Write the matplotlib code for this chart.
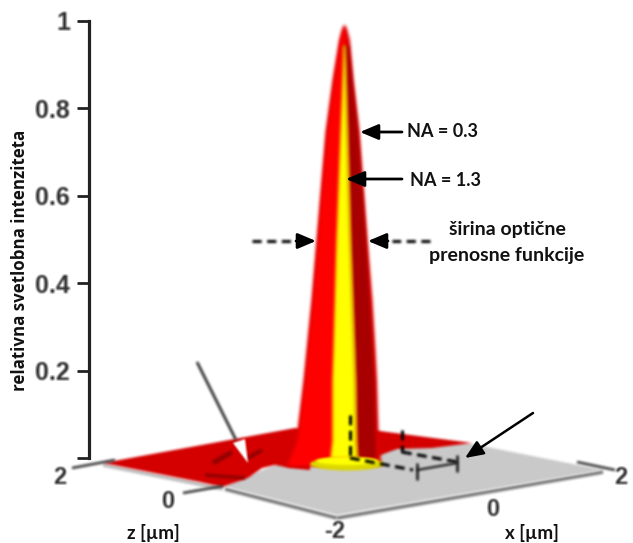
import numpy as np
import matplotlib
matplotlib.use("Agg")
import matplotlib.pyplot as plt
from matplotlib.patches import Ellipse, Polygon

# y axis
tick_vals = [0.2, 0.4, 0.6, 0.8, 1.0]
tick_labels = ["0.2", "0.4", "0.6", "0.8", "1"]

# peak outlines: relative intensity vs. screen x
level = [0.991, 0.979, 0.957, 0.865, 0.746, 0.499, 0.362, 0.247, 0.178, 0.064, 0.030, -0.016]
red_left = [343, 341, 338.5, 332, 325, 316, 311, 306, 303, 297, 294, 285]
red_right = [345, 347, 349.5, 353, 359, 367, 372, 375, 376.5, 378, 379, 381]

yellow_level = [0.945, 0.746, 0.499, 0.247, 0.178, 0.040, 0.0]
yellow_left = [343.5, 340, 336, 333, 332, 332, 330]
yellow_right = [344.5, 347, 350, 354, 355, 356, 357]

dark_level = [0.945, 0.746, 0.499, 0.178, 0.064, 0.0]
dark_right = [348, 357.5, 365.5, 374, 375, 376]

# floor outlines (screen coordinates)
gray_floor_x = [223, 337, 603, 472, 380, 300]
gray_floor_y = [486, 515, 470, 444, 440, 455]
red_left_x = [103, 200, 222, 248, 262, 275, 290, 310, 310, 295]
red_left_y = [463, 482, 487, 478, 468, 465, 468, 470, 430, 428]
red_right_x = [372, 472, 432, 397, 378, 372]
red_right_y = [430, 443, 448, 449, 456, 456]

# scene lines, screen coordinates
tick_lines = [((72, 468), (115, 460)), ((183, 493), (223, 486)), ((577, 462), (615, 470))]
dash_lines = [((350, 415), (350, 458)), ((350, 458), (413, 470)),
              ((402, 430), (402, 452)), ((402, 452), (457, 462))]
scale_bar = ((417, 470), (457, 463))
bar_caps = [((417, 463), (417, 480)), ((457, 455), (457, 472))]
ripples = [((213, 463), (232, 452)), ((248, 458), (262, 450)), ((205, 475), (245, 478))]


def to_y(p):
    # screen row -> relative intensity
    return (458 - np.asarray(p, dtype=float)) / 437


def blur(r=1, passes=2):
    # small box blur, premultiplied so the edges do not go dark
    def f(img, dpi):
        pad = 2 * r
        a = np.pad(img, ((pad, pad), (pad, pad), (0, 0)))
        a[:, :, :3] *= a[:, :, 3:]
        for _ in range(passes):
            a = sum(np.roll(a, i, axis=0) for i in range(-r, r + 1)) / (2 * r + 1)
            a = sum(np.roll(a, i, axis=1) for i in range(-r, r + 1)) / (2 * r + 1)
        a[:, :, :3] /= np.maximum(a[:, :, 3:], 1e-4)
        return np.clip(a, 0, 1), -pad, -pad
    return f


def seg(a, b, **kw):
    line, = ax.plot([a[0], b[0]], to_y([a[1], b[1]]), **kw)
    line.set_solid_capstyle("butt")
    line.set_agg_filter(blur())
    return line


plt.rcParams["font.family"] = ["Lato", "Liberation Sans", "DejaVu Sans"]
fig = plt.figure(figsize=(6.33, 5.43), dpi=100)
ax = fig.add_axes([0, 0, 1, 1])
ax.set_xlim(0, 633)
ax.set_ylim(to_y(543), to_y(0))

for s in ["top", "right", "bottom"]:
    ax.spines[s].set_visible(False)
ax.spines["left"].set_position(("data", 89))
ax.spines["left"].set_bounds(0, 1)
ax.spines["left"].set_linewidth(2.3)
ax.spines["left"].set_color("#222222")
ax.set_xticks([])
ax.set_yticks([0] + tick_vals)
ax.set_yticklabels([""] + tick_labels, fontsize=18, fontweight="bold", color="#333333",
                   family=["Liberation Sans"])
ax.tick_params(axis="y", length=8.5, width=2.0, color="#222222", pad=5)
for t in ax.get_yticklabels():
    t.set_agg_filter(blur(1, 1))

# floor
seg((225, 489), (337, 518), color="#777777", lw=2.6, zorder=1)
seg((337, 518), (603, 472), color="#777777", lw=2.6, zorder=1)
seg((103, 465), (223, 489), color="#bbbbbb", lw=2.5, zorder=1)
for px, py, fc in [(gray_floor_x, gray_floor_y, "#c9c9c9"), (red_left_x, red_left_y, "#d40000"),
                   (red_right_x, red_right_y, "#d40000")]:
    p = Polygon(np.c_[px, to_y(py)], fc=fc, ec="none", zorder=2)
    p.set_agg_filter(blur())
    ax.add_patch(p)

# ripple on the floor
for (a, b), w in zip(ripples, [3.5, 3, 2.5]):
    seg(a, b, color="#7a0000", lw=w, alpha=0.7, zorder=4)

for (a, b) in tick_lines:
    seg(a, b, color="#333333", lw=1.8, zorder=3.5)

# peak
yellow_r = np.interp(level[::-1], yellow_level[::-1], yellow_right[::-1])[::-1]
dark_l = np.interp(dark_level[::-1], yellow_level[::-1], yellow_right[::-1])[::-1]
peak = [
    ax.fill_betweenx(level, red_left, red_right, color="#e00000", lw=0, zorder=5),
    ax.fill_betweenx(level, np.array(red_left) + 2, yellow_r, color="#ff0000", lw=0, zorder=5.1),
    ax.fill_betweenx(dark_level, dark_l, dark_right, color="#a80000", lw=0, zorder=5.2),
    ax.add_patch(Ellipse((347, to_y(464)), 74, 13 / 437, fc="#dcd800", ec="none", zorder=5.3)),
    ax.add_patch(Ellipse((347, to_y(461)), 62, 8 / 437, fc="#ffff00", ec="none", zorder=5.4)),
    ax.fill_betweenx(yellow_level, yellow_left, yellow_right, color="#ffff00", lw=0, zorder=5.5),
    ax.fill_betweenx(yellow_level, np.array(yellow_right) - 1.5, yellow_right, color="#d0cc00", lw=0, zorder=5.6),
]
for p in peak:
    p.set_agg_filter(blur())

# dashed guides
for (a, b) in dash_lines:
    seg(a, b, color="black", lw=2.2, ls=(0, (3.2, 1.8)), zorder=7)
seg(scale_bar[0], scale_bar[1], color="#111111", lw=1.5, zorder=7)
for (a, b) in bar_caps:
    seg(a, b, color="#111111", lw=1.8, zorder=7)


def arrow(p0, p1, lw=2.0):
    ann = ax.annotate("", xy=(p1[0], to_y(p1[1])), xytext=(p0[0], to_y(p0[1])), zorder=8,
                      arrowprops=dict(arrowstyle="-|>,head_length=0.85,head_width=0.36", lw=lw,
                                      color="black", shrinkA=0, shrinkB=0, mutation_scale=13))
    ann.arrow_patch.set_agg_filter(blur(1, 1))


arrow((402, 132), (360, 132))
arrow((402, 179), (346, 179))
seg((252, 241), (292, 241), color="black", lw=2.2, ls=(0, (3, 1.8)), zorder=8)
arrow((296, 241), (316, 241))
seg((430, 241), (392, 241), color="black", lw=2.2, ls=(0, (3, 1.8)), zorder=8)
arrow((388, 241), (368, 241))
arrow((533, 413), (465, 458), lw=1.8)
# long arrow with white head
seg((197, 362), (236, 440), color="#333333", lw=2, zorder=8)
head = Polygon(np.c_[[233, 245, 248], to_y([443, 439, 463])], fc="white", ec="none", zorder=8)
head.set_agg_filter(blur(1, 1))
ax.add_patch(head)

# labels
bold = dict(fontweight="bold", va="center", ha="center", zorder=9, color="#111111")
ax.text(20, to_y(260), "relativna svetlobna intenziteta", rotation=90, fontsize=12.2,
        family=["Open Sans"], **bold)
ax.text(442.5, to_y(132), "NA = 0.3", fontsize=13, **bold)
ax.text(446, to_y(181), "NA = 1.3", fontsize=13, **bold)
ax.text(507, to_y(230), "širina optične", fontsize=14, **bold)
ax.text(507, to_y(256), "prenosne funkcije", fontsize=14, **bold)
ax.text(153, to_y(533), "z [µm]", fontsize=13.5, **bold)
ax.text(532, to_y(533), "x [µm]", fontsize=13.5, **bold)
for x, y, s in [(60, 477, "2"), (168, 501, "0"), (335, 531, "-2"), (493, 510, "0"), (621, 477, "2")]:
    t = ax.text(x, to_y(y), s, fontsize=17, family=["Liberation Sans"], fontweight="bold",
                va="center", ha="center", zorder=9, color="#333333")
    t.set_agg_filter(blur(1, 1))

fig.savefig("out.png", dpi=100)
